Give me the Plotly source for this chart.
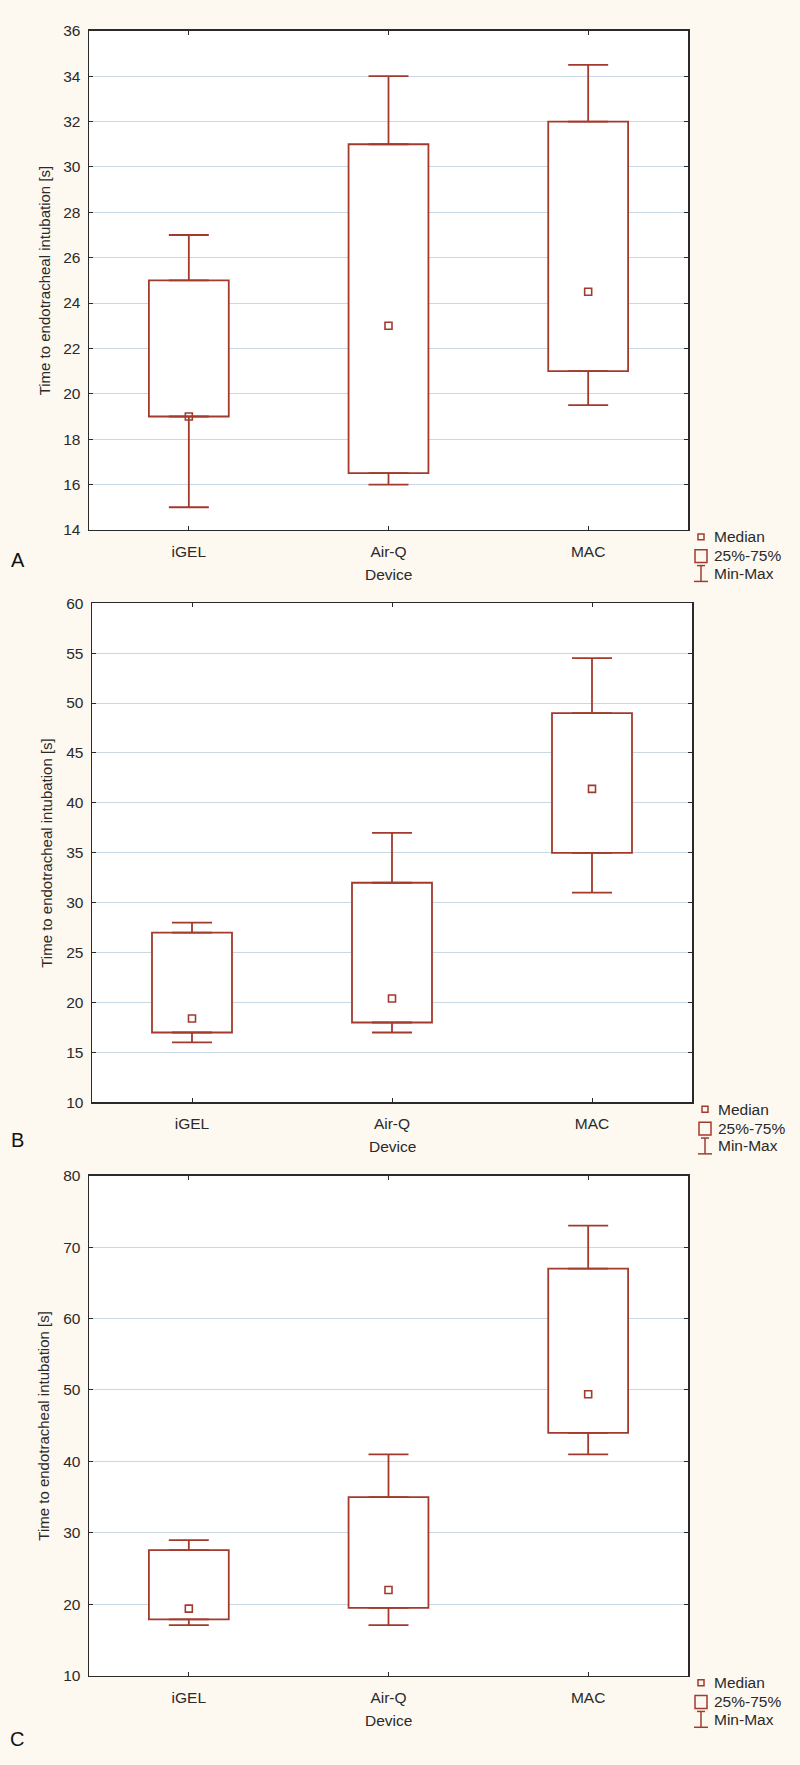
import plotly.graph_objects as go

# ---------------- data ----------------
devices = ["iGEL", "Air-Q", "MAC"]

a_min = [15, 16, 19.5]
a_q1 = [19, 16.5, 21]
a_med = [19, 23, 24.5]
a_q3 = [25, 31, 32]
a_max = [27, 34, 34.5]

b_min = [16, 17, 31]
b_q1 = [17, 18, 35]
b_med = [18.4, 20.4, 41.4]
b_q3 = [27, 32, 49]
b_max = [28, 37, 54.5]

c_min = [17.1, 17.1, 41]
c_q1 = [17.9, 19.5, 44]
c_med = [19.4, 22, 49.4]
c_q3 = [27.6, 35, 67]
c_max = [29, 41, 73]

y_ranges = [(14, 36), (10, 60), (10, 80)]
y_dticks = [2, 5, 10]
panel_letters = ["A", "B", "C"]
legend_labels = ["Median", "25%-75%", "Min-Max"]
x_title = "Device"
y_title = "Time to endotracheal intubation [s]"

# ---------------- style / layout ----------------
W, H = 800, 1765
RED = "#A23B2E"
INK = "#2a2a2a"
GRID = "#C9D8E2"
BG = "#FDF9F1"
FONT = "Liberation Sans, Arial, sans-serif"

# plot boxes in pixels: left, top, right, bottom
boxes = [(89, 22, 688, 526), (92, 600, 692, 1104), (89, 1178, 688, 1683)]
letter_pos = [(18, 556), (17, 1142), (17, 1747)]


def px(x):
    return x / W


def py(y):
    return 1 - y / H


stats = [
    (a_min, a_q1, a_med, a_q3, a_max),
    (b_min, b_q1, b_med, b_q3, b_max),
    (c_min, c_q1, c_med, c_q3, c_max),
]

fig = go.Figure()
shapes = []
annotations = []

for i, (mn, q1, med, q3, mx) in enumerate(stats):
    n = "" if i == 0 else str(i + 1)
    xa, ya = "x" + n, "y" + n
    heights = [b - a for a, b in zip(q1, q3)]
    fig.add_trace(go.Bar(
        x=devices, y=heights, base=q1, width=0.4,
        marker=dict(color="white", line=dict(color=RED, width=1.8)),
        xaxis=xa, yaxis=ya, showlegend=False, hoverinfo="skip"))
    # upper whisker
    fig.add_trace(go.Scatter(
        x=devices, y=q3, mode="markers",
        marker=dict(size=1, color="rgba(0,0,0,0)"),
        error_y=dict(type="data", symmetric=False,
                     array=[b - a for a, b in zip(q3, mx)],
                     arrayminus=[0, 0, 0], color=RED, thickness=1.8, width=20),
        xaxis=xa, yaxis=ya, showlegend=False, hoverinfo="skip"))
    # lower whisker
    fig.add_trace(go.Scatter(
        x=devices, y=q1, mode="markers",
        marker=dict(size=1, color="rgba(0,0,0,0)"),
        error_y=dict(type="data", symmetric=False,
                     array=[0, 0, 0],
                     arrayminus=[a - b for a, b in zip(q1, mn)],
                     color=RED, thickness=1.8, width=20),
        xaxis=xa, yaxis=ya, showlegend=False, hoverinfo="skip"))
    # median
    fig.add_trace(go.Scatter(
        x=devices, y=med, mode="markers",
        marker=dict(symbol="square-open", size=7, color=RED,
                    line=dict(color=RED, width=1.6)),
        xaxis=xa, yaxis=ya, showlegend=False, hoverinfo="skip"))

    l, t, r, b = boxes[i]
    axis_common = dict(
        showline=True, linecolor=INK, linewidth=1.5, mirror="ticks",
        ticks="inside", ticklen=4, tickcolor=INK, tickwidth=1,
        tickfont=dict(family=FONT, size=15.5, color=INK),
        zeroline=False,
    )
    fig.layout["xaxis" + n] = dict(
        domain=[px(l), px(r)], anchor=ya, type="category",
        range=[-0.5, 2.5], showgrid=False, ticklabelstandoff=7,
        fixedrange=True, **axis_common)
    fig.layout["yaxis" + n] = dict(
        domain=[py(b), py(t)], anchor=xa, range=list(y_ranges[i]),
        dtick=y_dticks[i], tick0=0, showgrid=True, gridcolor=GRID,
        gridwidth=1, ticklabelstandoff=4, fixedrange=True, **axis_common)

    # axis titles
    annotations.append(dict(
        text=x_title, x=px((l + r) / 2), y=py(b + 45), xref="paper",
        yref="paper", showarrow=False, xanchor="center", yanchor="middle",
        font=dict(family=FONT, size=15.5, color=INK)))
    annotations.append(dict(
        text=y_title, x=px(l - 45), y=py((t + b) / 2), xref="paper",
        yref="paper", showarrow=False, textangle=-90, xanchor="center",
        yanchor="middle", font=dict(family=FONT, size=15, color=INK)))
    # panel letter
    lx, ly = letter_pos[i]
    annotations.append(dict(
        text=panel_letters[i], x=px(lx), y=py(ly), xref="paper",
        yref="paper", showarrow=False, xanchor="center", yanchor="middle",
        font=dict(family=FONT, size=20, color="#111111")))

    # legend
    ix = r + 13
    tx = r + 24
    ys = [b + 7, b + 26, b + 44]
    for lab, yy in zip(legend_labels, ys):
        annotations.append(dict(
            text=lab, x=px(tx), y=py(yy), xref="paper", yref="paper",
            showarrow=False, xanchor="left", yanchor="middle",
            font=dict(family=FONT, size=15.5, color=INK)))
    # median icon
    shapes.append(dict(type="rect", xref="paper", yref="paper",
                       x0=px(ix - 3), x1=px(ix + 3),
                       y0=py(ys[0] + 3), y1=py(ys[0] - 3),
                       line=dict(color=RED, width=1.5)))
    # box icon
    shapes.append(dict(type="rect", xref="paper", yref="paper",
                       x0=px(ix - 6), x1=px(ix + 6),
                       y0=py(ys[1] + 7), y1=py(ys[1] - 6),
                       line=dict(color=RED, width=1.5)))
    # min-max icon
    shapes.append(dict(type="line", xref="paper", yref="paper",
                       x0=px(ix), x1=px(ix), y0=py(ys[2] - 8), y1=py(ys[2] + 8),
                       line=dict(color=RED, width=1.5)))
    shapes.append(dict(type="line", xref="paper", yref="paper",
                       x0=px(ix - 4), x1=px(ix + 4), y0=py(ys[2] - 8), y1=py(ys[2] - 8),
                       line=dict(color=RED, width=1.5)))
    shapes.append(dict(type="line", xref="paper", yref="paper",
                       x0=px(ix - 7), x1=px(ix + 7), y0=py(ys[2] + 8), y1=py(ys[2] + 8),
                       line=dict(color=RED, width=1.5)))

fig.update_layout(
    width=W, height=H,
    margin=dict(l=0, r=0, t=0, b=0),
    paper_bgcolor=BG, plot_bgcolor="white",
    showlegend=False, bargap=0,
    shapes=shapes, annotations=annotations,
    font=dict(family=FONT, color=INK),
)

fig.write_html(
    "out.html",
    config=dict(displayModeBar=False, staticPlot=True),
    post_script="document.body.style.margin='0px';"
                "document.body.style.background='" + BG + "';",
)
